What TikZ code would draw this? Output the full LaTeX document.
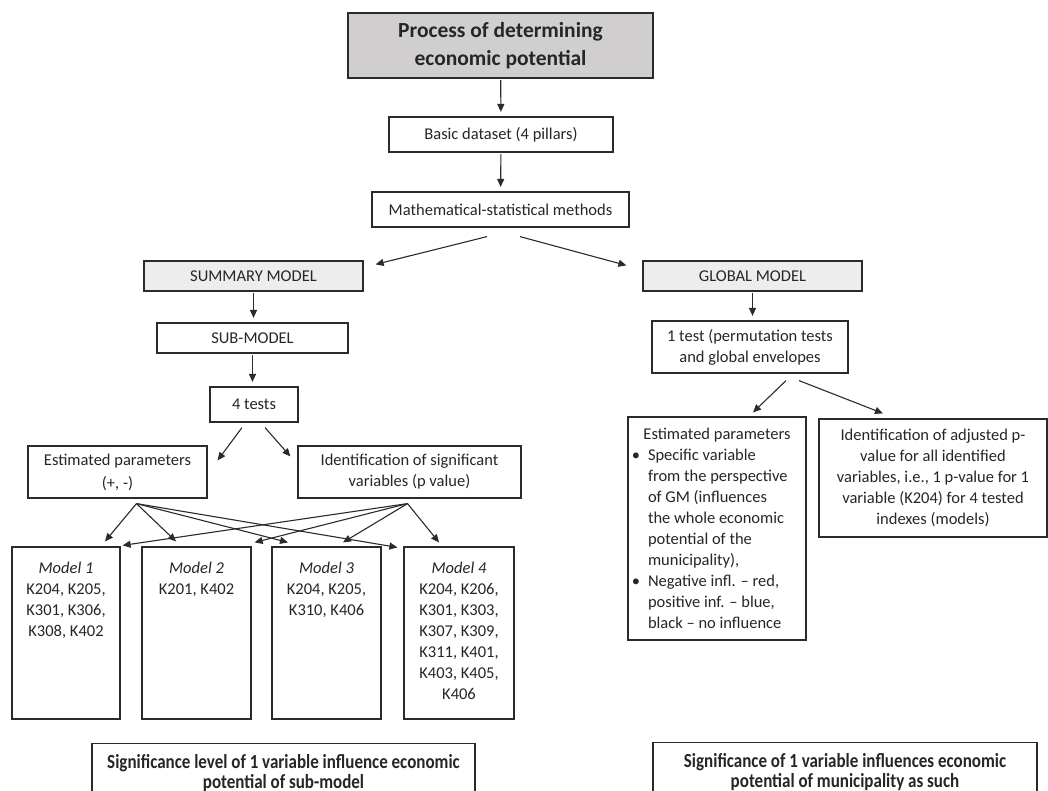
\documentclass[tikz,border=0pt]{standalone}
\usepackage{fontspec}
\setmainfont{Carlito}
\newfontfamily\narrowfont[FakeStretch=0.85]{Carlito}
\usetikzlibrary{arrows.meta}
\definecolor{epdark}{HTML}{D0CECE}
\definecolor{eplight}{HTML}{EDEDED}
\definecolor{epline}{HTML}{2B2B2B}

\begin{document}
\begin{tikzpicture}[x=1pt, y=-1pt,
    every node/.style={font=\fontsize{16.5}{21}\selectfont, text=black!85},
    box/.style={rectangle, draw=epline, line width=1.2pt, align=center, inner sep=0pt},
    flow/.style={line width=1.1pt, draw=epline, -{Triangle[length=8pt,width=7pt]}},
    down/.style={flow, shorten <=1.5pt, shorten >=4.5pt}]
\clip (0,0) rectangle (1048,791);
\fill[white] (0,0) rectangle (1048,791);

% top of the flow
\node[box, fill=epdark, minimum width=305pt, minimum height=65pt, font=\fontsize{21.5}{28}\selectfont\bfseries] (proc) at (500.5,45.5) {Process of determining\\economic potential};
\node[box, minimum width=224pt, minimum height=35pt] (basic) at (501,134.5) {Basic dataset (4 pillars)};
\node[box, minimum width=257pt, minimum height=35pt] (methods) at (500.5,209.5) {Mathematical-statistical methods};

% summary branch
\node[box, fill=eplight, minimum width=219pt, minimum height=30pt] (summary) at (253.5,276) {SUMMARY MODEL};
\node[box, minimum width=191pt, minimum height=30pt] (submodel) at (252.5,338) {SUB-MODEL};
\node[box, minimum width=88pt, minimum height=35pt] (tests) at (254,404.5) {4 tests};
\node[box, minimum width=179pt, minimum height=52pt] (estpar) at (117.5,472) {Estimated parameters\\[2pt](+, -)};
\node[box, minimum width=223pt, minimum height=52pt] (signif) at (409.5,472) {Identification of significant\\variables (p value)};

\node[box, minimum width=108pt, minimum height=172pt] (m1) at (66,633) {\parbox[c][170pt][t]{106pt}{\centering\vspace*{14pt}\textit{Model 1}\\K204, K205,\\K301, K306,\\K308, K402}};
\node[box, minimum width=109pt, minimum height=172pt] (m2) at (196.5,633) {\parbox[c][170pt][t]{106pt}{\centering\vspace*{14pt}\textit{Model 2}\\K201, K402}};
\node[box, minimum width=109pt, minimum height=172pt] (m3) at (326.5,633) {\parbox[c][170pt][t]{106pt}{\centering\vspace*{14pt}\textit{Model 3}\\K204, K205,\\K310, K406}};
\node[box, minimum width=110pt, minimum height=172pt] (m4) at (459,633) {\parbox[c][170pt][t]{106pt}{\centering\vspace*{14pt}\textit{Model 4}\\K204, K206,\\K301, K303,\\K307, K309,\\K311, K401,\\K403, K405,\\K406}};

% global branch
\node[box, fill=eplight, minimum width=219pt, minimum height=30pt] (global) at (752.5,276) {GLOBAL MODEL};
\node[box, minimum width=196pt, minimum height=52pt] (onetest) at (750,347) {1 test (permutation tests\\and global envelopes};
\node[box, minimum width=178pt, minimum height=223pt] (estgm) at (717,528.5) {\parbox{172pt}{\centering Estimated parameters\par\raggedright
    \begin{list}{\textbullet}{\setlength{\leftmargin}{17pt}\setlength{\labelwidth}{9pt}\setlength{\labelsep}{8pt}\setlength{\itemsep}{0pt}\setlength{\topsep}{0pt}\setlength{\parsep}{0pt}\setlength{\partopsep}{0pt}}
    \item Specific variable\\from the perspective\\of GM (influences\\the whole economic\\potential of the\\municipality),
    \item Negative infl. -- red,\\positive inf. -- blue,\\black -- no influence
    \end{list}}};
\node[box, minimum width=228pt, minimum height=118pt] (adjusted) at (933,478) {Identification of adjusted p-\\value for all identified\\variables, i.e., 1 p-value for 1\\variable (K204) for 4 tested\\indexes (models)};

% conclusions (cut by the page edge)
\node[box, anchor=north, minimum width=383pt, minimum height=58pt, font=\narrowfont\bfseries\fontsize{20}{20}\selectfont] (sublevel) at (283.5,743) {Significance level of 1 variable influence economic\\potential of sub-model};
\node[box, anchor=north, minimum width=384pt, minimum height=58pt, font=\narrowfont\bfseries\fontsize{20}{20}\selectfont] (munlevel) at (845,742) {Significance of 1 variable influences economic\\potential of municipality as such};

% arrows
\draw[down] (proc) -- (basic);
\draw[down] (basic) -- (methods);
\draw[flow] ([xshift=-13.5pt,yshift=-9pt]methods.south) -- ([xshift=12pt,yshift=-4pt]summary.north east);
\draw[flow] ([xshift=19.5pt,yshift=-9pt]methods.south) -- ([xshift=-16pt,yshift=-5pt]global.north west);
\draw[down] (summary) -- (summary |- submodel.north);
\draw[down] (submodel) -- (submodel |- tests.north);
\draw[flow] ([xshift=-12pt,yshift=-5pt]tests.south) -- ([xshift=10pt,yshift=-15pt]estpar.north east);
\draw[flow] ([xshift=11pt,yshift=-5pt]tests.south) -- ([xshift=-7pt,yshift=-11pt]signif.north west);
\draw[down] (global) -- (global |- onetest.north);
\draw[flow] ([xshift=36pt,yshift=-7pt]onetest.south) -- ([xshift=36pt,yshift=4pt]estgm.north);
\draw[flow] ([xshift=49pt,yshift=-7pt]onetest.south) -- ([xshift=-50pt,yshift=5pt]adjusted.north);

\coordinate (estfan) at ([xshift=19pt,yshift=-5pt]estpar.south);
\coordinate (sigfan) at ([xshift=-2pt,yshift=-5pt]signif.south);
\draw[flow] (estfan) -- ([xshift=39pt,yshift=5pt]m1.north);
\draw[flow] (estfan) -- ([xshift=-20.5pt,yshift=5pt]m2.north);
\draw[flow] (estfan) -- ([xshift=-38.5pt,yshift=4pt]m3.north);
\draw[flow] (estfan) -- ([xshift=-6pt,yshift=-1pt]m4.north west);
\draw[flow] (sigfan) -- ([xshift=2pt,yshift=1pt]m1.north east);
\draw[flow] (sigfan) -- ([xshift=3pt,yshift=4pt]m2.north east);
\draw[flow] (sigfan) -- ([xshift=16.5pt,yshift=4pt]m3.north);
\draw[flow] (sigfan) -- ([xshift=-20pt,yshift=4pt]m4.north);
\end{tikzpicture}
\end{document}
